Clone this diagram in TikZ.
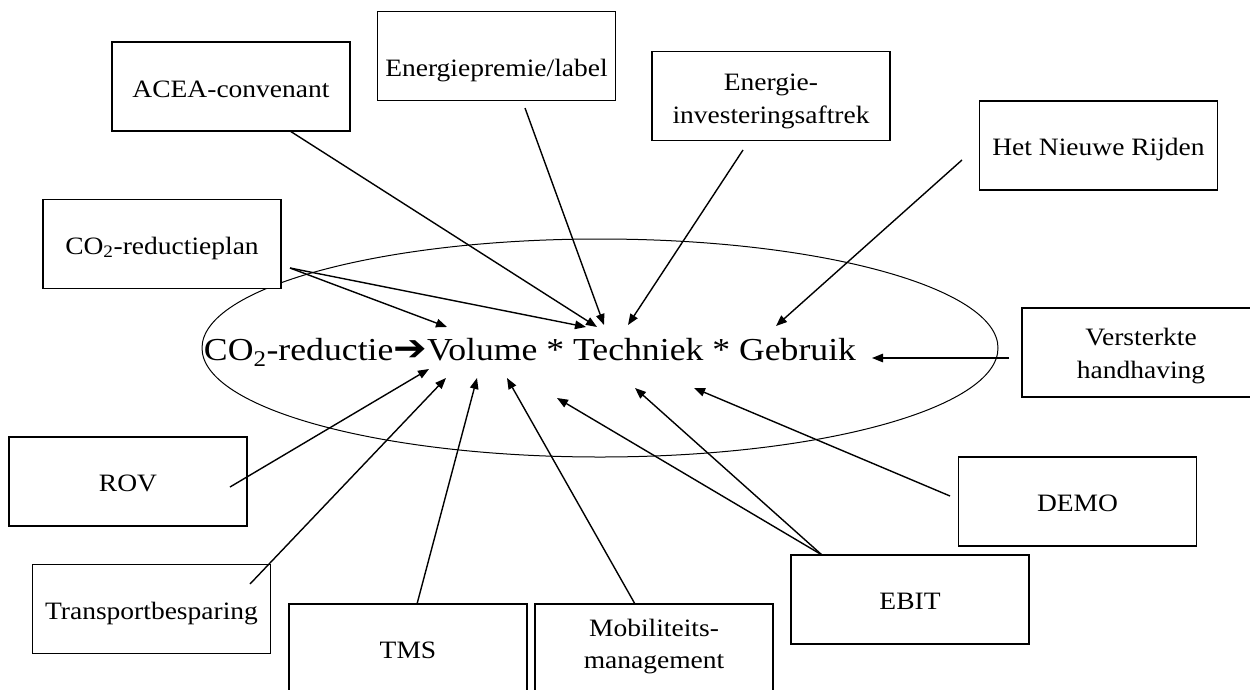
\documentclass[tikz,border=0pt]{standalone}
\usepackage{fontspec}
\setmainfont{Liberation Serif}
\newfontfamily\arrowfont{DejaVu Sans Bold}
\usetikzlibrary{arrows.meta}
\newcommand{\boxtxt}[1]{\scalebox{1.1}[1]{#1}}
\begin{document}
\begin{tikzpicture}[x=1pt,y=-1pt,
  box/.style={draw, fill=white, line width=1.1pt, minimum width=238pt, minimum height=89pt, inner sep=0pt},
  lbl/.style={font=\fontsize{25}{30}\selectfont, inner sep=0pt, anchor=base},
  conn/.style={line width=1.4pt, -{Triangle[length=11pt,width=8.5pt]}},
  ell/.style={line width=1pt}
]
\clip (0,0) rectangle (1250,689);
\fill[white] (0,0) rectangle (1250,689);

% ellipse
\draw[ell] (600,348) ellipse [x radius=398pt, y radius=109pt];

% boxes
\node[box] (acea)  at (231,86.5)   {};
\node[box] (prem)  at (496.5,56)   {};
\node[box] (inv)   at (771,96)     {};
\node[box] (hnr)   at (1098.5,145.5) {};
\node[box] (plan)  at (162,244)    {};
\node[box] (vh)    at (1141,352.5) {};
\node[box] (demo)  at (1077.5,501.5) {};
\node[box] (ebit)  at (910,599.5)  {};
\node[box] (mob)   at (654,648.5)  {};
\node[box] (tms)   at (408,648.5)  {};
\node[box] (trans) at (151.5,609)  {};
\node[box] (rov)   at (128,481.5)  {};

% texts
\node[lbl] (aceaT)  at (231,97)     {\boxtxt{ACEA-convenant}};
\node[lbl] (premT)  at (496.5,76)   {\boxtxt{Energiepremie/label}};
\node[lbl] (invT1)  at (771,90)     {\boxtxt{Energie-}};
\node[lbl] (invT2)  at (771,123)    {\boxtxt{investeringsaftrek}};
\node[lbl] (hnrT)   at (1098.5,155) {\boxtxt{Het Nieuwe Rijden}};
\node[lbl] (planT)  at (162,254)    {\boxtxt{CO\textsubscript{2}-reductieplan}};
\node[lbl] (vhT1)   at (1141,345)   {\boxtxt{Versterkte}};
\node[lbl] (vhT2)   at (1141,378)   {\boxtxt{handhaving}};
\node[lbl] (demoT)  at (1077.5,511) {\boxtxt{DEMO}};
\node[lbl] (ebitT)  at (910,609)    {\boxtxt{EBIT}};
\node[lbl] (mobT1)  at (654,636)    {\boxtxt{Mobiliteits-}};
\node[lbl] (mobT2)  at (654,668)    {\boxtxt{management}};
\node[lbl] (tmsT)   at (408,658)    {\boxtxt{TMS}};
\node[lbl] (transT) at (151.5,619)  {\boxtxt{Transportbesparing}};
\node[lbl] (rovT)   at (128,491)    {\boxtxt{ROV}};

% central formula
\node[anchor=base, inner sep=0pt, font=\fontsize{32}{38}\selectfont] (eq) at (530,360)
  {\resizebox{652pt}{\height}{CO\textsubscript{2}-reductie{\arrowfont\fontsize{36}{38}\selectfont ➔}Volume * Techniek * Gebruik}};

% connector end points
\coordinate (planS)  at (290,268);
\coordinate (aceaS)  at (290,131);
\coordinate (premS)  at (525,108);
\coordinate (invS)   at (743,150);
\coordinate (hnrS)   at (962,160);
\coordinate (vhS)    at (1009,358);
\coordinate (demoS)  at (950,496);
\coordinate (ebitS)  at (822,555);
\coordinate (mobS)   at (635,604);
\coordinate (tmsS)   at (417,604);
\coordinate (transS) at (250,584);
\coordinate (rovS)   at (230,487);

\coordinate (tVol1) at (447,327);
\coordinate (tTec1) at (586,327);
\coordinate (tTec2) at (597,327);
\coordinate (tTec3) at (604,325);
\coordinate (tTec4) at (628,325);
\coordinate (tGeb1) at (776,326);
\coordinate (tGeb2) at (872,358);
\coordinate (tDemo) at (694,388);
\coordinate (tEb1)  at (635,388);
\coordinate (tEb2)  at (557,398);
\coordinate (tMob)  at (507,378);
\coordinate (tTms)  at (477,378);
\coordinate (tTra)  at (446,378);
\coordinate (tRov)  at (429,369);

\draw[conn] (planS) -- (tVol1);
\draw[conn] (planS) -- (tTec1);
\draw[conn] (aceaS) -- (tTec2);
\draw[conn] (premS) -- (tTec3);
\draw[conn] (invS) -- (tTec4);
\draw[conn] (hnrS) -- (tGeb1);
\draw[conn] (vhS) -- (tGeb2);
\draw[conn] (demoS) -- (tDemo);
\draw[conn] (ebitS) -- (tEb1);
\draw[conn] (ebitS) -- (tEb2);
\draw[conn] (mobS) -- (tMob);
\draw[conn] (tmsS) -- (tTms);
\draw[conn] (transS) -- (tTra);
\draw[conn] (rovS) -- (tRov);
\end{tikzpicture}
\end{document}
